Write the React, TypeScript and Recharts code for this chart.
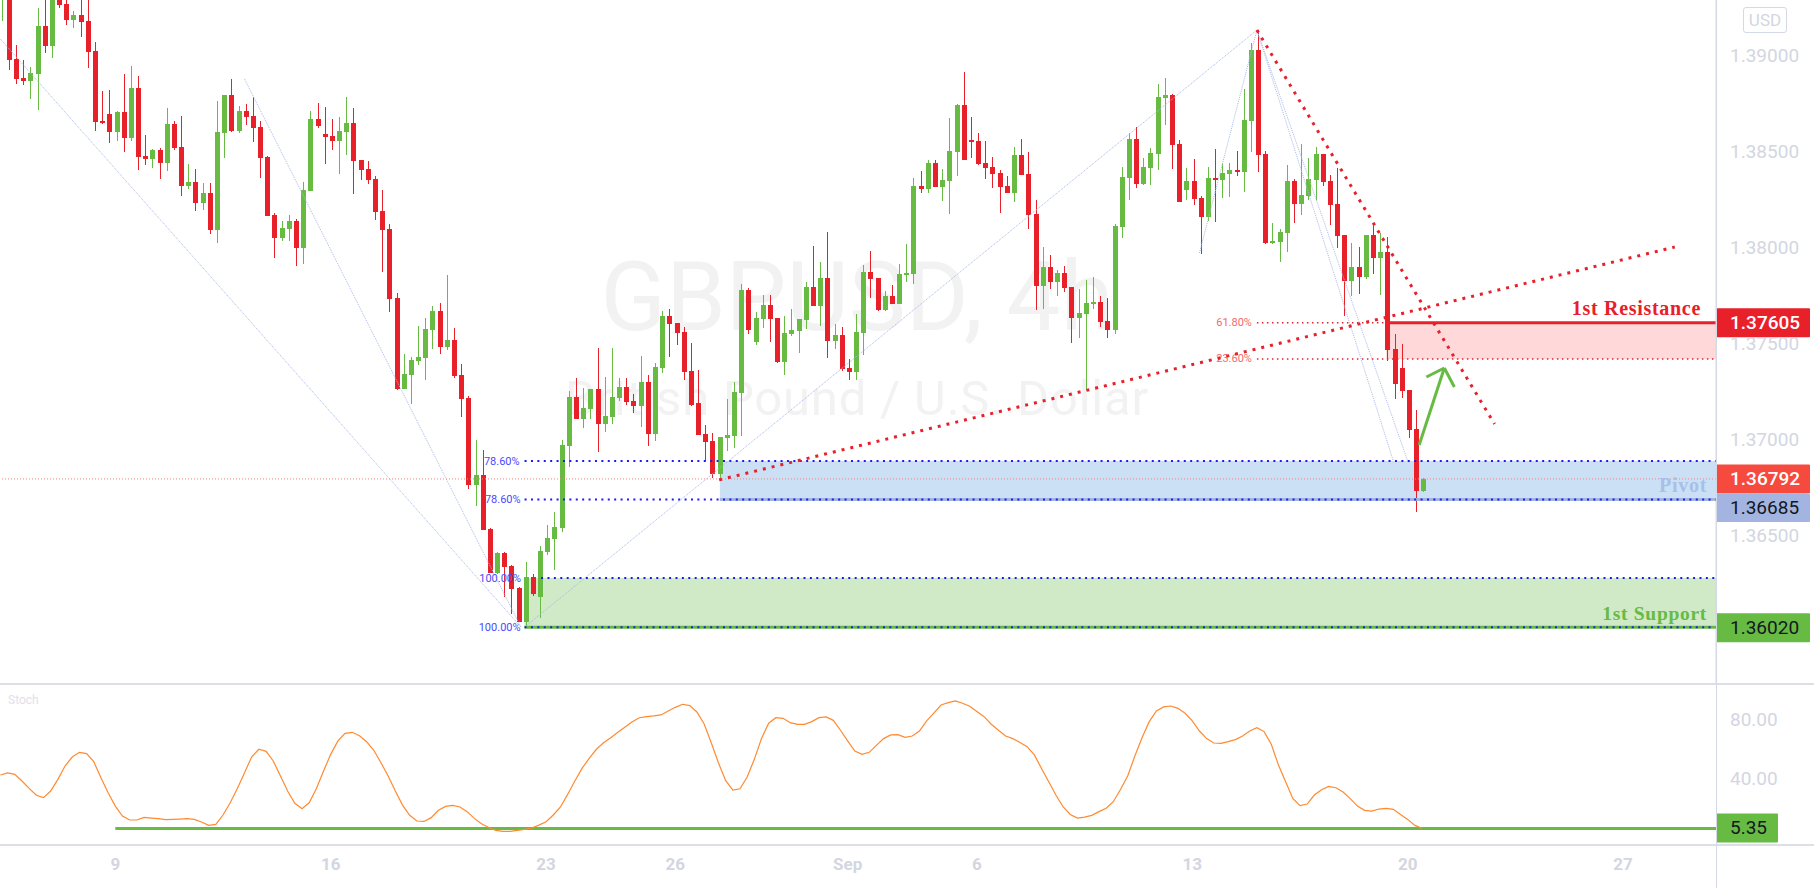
import {
  ComposedChart,
  Bar,
  Line,
  XAxis,
  YAxis,
  ReferenceArea,
  ReferenceLine,
} from "recharts";

// 4h GBPUSD candles
const highs = [
  1.39443, 1.39495, 1.39052, 1.38974, 1.38938, 1.39245, 1.39391, 1.39443, 1.39443, 1.39313,
  1.39229, 1.39339, 1.39339, 1.39068, 1.38812, 1.38818, 1.38708, 1.38901, 1.38943, 1.38891,
  1.38583, 1.3851, 1.38516, 1.38724, 1.38656, 1.38682, 1.38432, 1.38406, 1.38333, 1.38333,
  1.38761, 1.38792, 1.38875, 1.38734, 1.38745, 1.38781, 1.38656, 1.38474, 1.38177, 1.38136,
  1.38167, 1.38146, 1.38339, 1.38708, 1.3875, 1.38729, 1.38667, 1.38677, 1.38781, 1.38724,
  1.38453, 1.38448, 1.3837, 1.38297, 1.3812, 1.3776, 1.37443, 1.37427, 1.37588, 1.3763,
  1.37693, 1.37708, 1.37854, 1.37578, 1.37391, 1.37224, 1.36995, 1.36943, 1.36536, 1.36411,
  1.36411, 1.36343, 1.36229, 1.36359, 1.36297, 1.36443, 1.36552, 1.36619, 1.36995, 1.3725,
  1.37318, 1.37266, 1.3726, 1.37474, 1.37323, 1.37474, 1.37318, 1.37318, 1.37234, 1.37432,
  1.37333, 1.37396, 1.37667, 1.37677, 1.37604, 1.37583, 1.375, 1.37359, 1.37073, 1.37031,
  1.3701, 1.37208, 1.37297, 1.37808, 1.37786, 1.37662, 1.3775, 1.3775, 1.3763, 1.37641,
  1.37677, 1.37625, 1.37818, 1.38005, 1.37922, 1.38078, 1.37599, 1.37583, 1.37417, 1.37651,
  1.37906, 1.37979, 1.37839, 1.37771, 1.37802, 1.37911, 1.38016, 1.3836, 1.38396, 1.38453,
  1.38453, 1.38406, 1.38672, 1.38745, 1.38911, 1.38677, 1.38594, 1.38552, 1.38469, 1.38401,
  1.3837, 1.38521, 1.38563, 1.38495, 1.38245, 1.38, 1.37958, 1.3788, 1.37901, 1.37792,
  1.37781, 1.37828, 1.37844, 1.37745, 1.37734, 1.3812, 1.38417, 1.38594, 1.38625, 1.38464,
  1.38516, 1.38849, 1.3888, 1.38797, 1.38557, 1.38412, 1.38458, 1.38266, 1.38417, 1.3851,
  1.38438, 1.38438, 1.385, 1.38823, 1.39063, 1.3913, 1.385, 1.38125, 1.38094, 1.38427,
  1.38354, 1.38536, 1.38464, 1.38521, 1.38484, 1.38375, 1.38412, 1.38062, 1.38021, 1.38,
  1.38062, 1.38125, 1.38073, 1.38052, 1.37547, 1.37495, 1.37255, 1.37151, 1.36797,
];
const lows = [
  1.39177, 1.38922, 1.38849, 1.38844, 1.38771, 1.38713, 1.39011, 1.38984, 1.39245, 1.39156,
  1.39141, 1.39094, 1.38932, 1.38604, 1.38641, 1.38542, 1.38552, 1.38495, 1.38552, 1.38401,
  1.38427, 1.38412, 1.38354, 1.38396, 1.38505, 1.38266, 1.38302, 1.38188, 1.38193, 1.38068,
  1.38021, 1.38464, 1.38599, 1.38594, 1.38635, 1.38547, 1.3836, 1.38162, 1.37943, 1.38031,
  1.38031, 1.37901, 1.37911, 1.38292, 1.3862, 1.38432, 1.38505, 1.3838, 1.38479, 1.38276,
  1.38349, 1.38328, 1.38141, 1.3787, 1.37662, 1.37255, 1.3726, 1.37182, 1.37385, 1.37307,
  1.37469, 1.37443, 1.37464, 1.37318, 1.37115, 1.36739, 1.36651, 1.36526, 1.36302, 1.36297,
  1.36177, 1.36088, 1.36046, 1.3602, 1.36182, 1.36067, 1.36395, 1.36318, 1.36515, 1.36854,
  1.37104, 1.37057, 1.37104, 1.36932, 1.37036, 1.37078, 1.37198, 1.37177, 1.37135, 1.37063,
  1.36964, 1.3699, 1.37344, 1.37427, 1.3749, 1.37307, 1.37172, 1.37021, 1.36885, 1.36797,
  1.36797, 1.36937, 1.36953, 1.37016, 1.37547, 1.3749, 1.37578, 1.37505, 1.37396, 1.37333,
  1.37536, 1.37448, 1.37573, 1.37693, 1.37588, 1.37422, 1.37469, 1.37354, 1.37307, 1.37307,
  1.37438, 1.37734, 1.37667, 1.37667, 1.37703, 1.37703, 1.37818, 1.37808, 1.38281, 1.38281,
  1.38313, 1.3824, 1.38172, 1.3837, 1.38453, 1.38464, 1.38427, 1.38354, 1.38307, 1.38177,
  1.38281, 1.38234, 1.38375, 1.38094, 1.37672, 1.37677, 1.37781, 1.37745, 1.37766, 1.375,
  1.37526, 1.37255, 1.37677, 1.37583, 1.37526, 1.37547, 1.38047, 1.38245, 1.38307, 1.38323,
  1.38323, 1.38401, 1.38635, 1.38406, 1.38234, 1.38245, 1.38219, 1.37963, 1.38136, 1.3813,
  1.38255, 1.3826, 1.3837, 1.38287, 1.38495, 1.38391, 1.38016, 1.38016, 1.37922, 1.37974,
  1.38125, 1.38167, 1.38245, 1.38245, 1.38318, 1.38115, 1.37995, 1.37641, 1.37745, 1.37755,
  1.37833, 1.37859, 1.3775, 1.37406, 1.37208, 1.37214, 1.37005, 1.36619, 1.36724,
];
const opens = [
  1.39302, 1.39417, 1.38979, 1.3888, 1.38865, 1.38901, 1.39151, 1.39047, 1.39365, 1.39266,
  1.39182, 1.39208, 1.39177, 1.39021, 1.38656, 1.38693, 1.38599, 1.38703, 1.38568, 1.38828,
  1.38474, 1.38458, 1.38505, 1.38438, 1.38641, 1.38521, 1.38318, 1.38339, 1.38229, 1.38281,
  1.38089, 1.38594, 1.38792, 1.38604, 1.38708, 1.38682, 1.38625, 1.38469, 1.38167, 1.38047,
  1.38094, 1.38136, 1.37995, 1.38292, 1.38667, 1.38589, 1.38578, 1.38552, 1.38599, 1.38646,
  1.38453, 1.38406, 1.38354, 1.38188, 1.38094, 1.37734, 1.3726, 1.37333, 1.37406, 1.37422,
  1.37568, 1.37667, 1.37479, 1.37516, 1.37333, 1.37214, 1.3676, 1.36812, 1.36531, 1.36302,
  1.36406, 1.36338, 1.36224, 1.36046, 1.36281, 1.36177, 1.36411, 1.36479, 1.36536, 1.36964,
  1.37219, 1.37104, 1.37156, 1.3726, 1.37078, 1.37115, 1.37214, 1.37271, 1.37198, 1.37172,
  1.37297, 1.37026, 1.3737, 1.37641, 1.37604, 1.37557, 1.37354, 1.37188, 1.37026, 1.3699,
  1.36818, 1.37005, 1.37016, 1.37239, 1.37776, 1.37505, 1.37625, 1.37698, 1.3763, 1.37401,
  1.37547, 1.37562, 1.3762, 1.37792, 1.37693, 1.37839, 1.3751, 1.37542, 1.3737, 1.37349,
  1.37552, 1.3787, 1.37839, 1.37672, 1.37745, 1.37703, 1.37854, 1.37859, 1.38318, 1.38302,
  1.38438, 1.38313, 1.38344, 1.38495, 1.3874, 1.38557, 1.38552, 1.38438, 1.38417, 1.38385,
  1.38318, 1.38281, 1.38479, 1.3838, 1.38172, 1.37797, 1.37896, 1.37818, 1.37865, 1.37792,
  1.3763, 1.37651, 1.37703, 1.37713, 1.37615, 1.37568, 1.38104, 1.3836, 1.38563, 1.38328,
  1.38412, 1.38484, 1.38776, 1.38792, 1.38536, 1.38297, 1.38344, 1.38255, 1.38156, 1.3836,
  1.38349, 1.3838, 1.38401, 1.38391, 1.38656, 1.39026, 1.38484, 1.38021, 1.38026, 1.38073,
  1.38344, 1.38224, 1.38266, 1.38349, 1.38484, 1.38344, 1.38224, 1.38062, 1.37823, 1.37896,
  1.37844, 1.38062, 1.37943, 1.37974, 1.37469, 1.3737, 1.37255, 1.37052, 1.36729,
];
const closes = [
  1.39417, 1.38974, 1.38875, 1.38865, 1.38906, 1.39151, 1.39047, 1.39339, 1.39261, 1.39182,
  1.39208, 1.39172, 1.39016, 1.38651, 1.38646, 1.38599, 1.38703, 1.38568, 1.38828, 1.38469,
  1.38458, 1.38505, 1.38438, 1.38641, 1.38516, 1.38318, 1.38339, 1.38229, 1.38281, 1.38089,
  1.38599, 1.38792, 1.38604, 1.38708, 1.38677, 1.3862, 1.38464, 1.38162, 1.38047, 1.38099,
  1.38136, 1.37995, 1.38297, 1.38667, 1.3863, 1.38573, 1.38552, 1.38604, 1.38646, 1.38448,
  1.38401, 1.38349, 1.38182, 1.38089, 1.37729, 1.3726, 1.37339, 1.37411, 1.37427, 1.37573,
  1.37667, 1.37479, 1.37516, 1.37328, 1.37208, 1.3676, 1.36812, 1.36526, 1.36302, 1.36406,
  1.36333, 1.36218, 1.36046, 1.36281, 1.36192, 1.36416, 1.36484, 1.36541, 1.36969, 1.37219,
  1.37104, 1.37161, 1.3726, 1.37078, 1.3712, 1.37219, 1.37271, 1.37193, 1.37172, 1.37297,
  1.37026, 1.37375, 1.37641, 1.37599, 1.37552, 1.37349, 1.37177, 1.37021, 1.36984, 1.36818,
  1.3701, 1.37021, 1.37245, 1.37776, 1.37568, 1.3763, 1.37698, 1.37625, 1.37401, 1.37552,
  1.37568, 1.37625, 1.37792, 1.37693, 1.37839, 1.3751, 1.37542, 1.37365, 1.37349, 1.37557,
  1.3787, 1.37833, 1.37672, 1.37745, 1.37703, 1.37859, 1.37865, 1.38318, 1.38302, 1.38438,
  1.38313, 1.38349, 1.385, 1.3874, 1.38453, 1.38547, 1.38432, 1.38412, 1.3838, 1.38313,
  1.38281, 1.38479, 1.38375, 1.38167, 1.37797, 1.37896, 1.37818, 1.37865, 1.37786, 1.3763,
  1.37656, 1.37708, 1.37713, 1.37609, 1.37568, 1.38109, 1.38365, 1.38563, 1.38328, 1.38417,
  1.3849, 1.38781, 1.38792, 1.38531, 1.38234, 1.38344, 1.3825, 1.38156, 1.3836, 1.38349,
  1.38385, 1.38401, 1.38391, 1.38662, 1.39026, 1.38479, 1.38021, 1.38031, 1.38078, 1.38344,
  1.38224, 1.38271, 1.38354, 1.38484, 1.38339, 1.38219, 1.38057, 1.37823, 1.37896, 1.37844,
  1.38062, 1.37943, 1.37974, 1.37464, 1.37286, 1.3725, 1.37047, 1.36729, 1.36792,
];
const stoch = [
  41.9, 43.3, 42.3, 37.8, 32.7, 28, 26.4, 30.9, 38.9, 48,
  54.2, 57.4, 56.5, 51, 40, 29.8, 20.6, 13.8, 11.1, 11.1,
  12.9, 12.4, 12, 11.3, 11.5, 11.7, 12, 11.5, 9.7, 7.4,
  8.1, 14.5, 22.9, 32.7, 43.5, 54.4, 59.5, 58.1, 51.5, 41.2,
  30.9, 22.5, 18.8, 22.9, 32.5, 44.6, 56, 65.2, 70.4, 71.1,
  68.8, 64.7, 58.8, 50.3, 41.2, 30.9, 21.3, 14.3, 10.4, 10.1,
  12.7, 17.7, 20.4, 21.1, 20, 16.8, 12.2, 8.5, 6, 4,
  3.3, 3.3, 4, 4.7, 5.6, 7.6, 9.9, 14.5, 20, 28.6,
  37.8, 46.4, 53.3, 59.5, 64, 67.4, 71.1, 74.8, 78.4, 81.1,
  81.8, 82.3, 83, 85.7, 88.2, 90.3, 89.4, 85, 77, 64,
  50.3, 38.2, 31.6, 32.5, 40.5, 52.6, 66.8, 77.3, 81.1, 80.7,
  77.7, 76.6, 76.6, 78.4, 81.1, 81.6, 79.3, 72.5, 65.2, 58.3,
  56, 57.4, 62.2, 66.8, 69.3, 69.5, 67.7, 68.6, 72, 78.9,
  84.3, 89.8, 91.4, 92.6, 91, 88.9, 85.3, 81.8, 76.6, 72.5,
  68.6, 66.8, 64.2, 61.3, 55.6, 46.4, 37.3, 28.2, 20.2, 14.9,
  12.4, 13.1, 14.3, 16.8, 19.1, 23.6, 32, 41.2, 54.9, 67.4,
  78.4, 85.7, 88.5, 89.1, 87.5, 84.1, 78.9, 72, 66.8, 63.8,
  63.6, 64.7, 66.1, 68.6, 72, 74.3, 71.6, 62.9, 48.7, 37.3,
  25.9, 20.9, 22, 28.2, 31.8, 34.1, 33.2, 30.2, 25.7, 20.6,
  17.7, 17.2, 18.6, 19.1, 18.4, 14.9, 11.5, 7.4, 5.35,
];

const priceTicks = [1.39, 1.385, 1.38, 1.375, 1.37, 1.365];
const stochTicks = [80, 40];
const dateLabels = ["9", "16", "23", "26", "Sep", "6", "13", "20", "27"];
const dateIndexes = [16, 46, 76, 94, 118, 136, 166, 196, 226];

// levels on the right
const resistance = 1.37605;
const resistanceLow = 1.37417;
const lastPrice = 1.36792;
const pivot = 1.36685;
const pivotHigh = 1.36885;
const support = 1.3602;
const supportHigh = 1.36276;
const stochLevel = 5.35;

// drawing anchors as [candle index, price]
const swingHigh = [175, 1.3913];
const swingLow = [72.5, 1.3602];
const fibLines = [
  [[0, 1.39083], swingLow],
  [[34, 1.38875], swingLow],
  [[73, 1.3602], swingHigh],
  [[167, 1.37969], swingHigh],
  [swingHigh, [194, pivotHigh]],
  [swingHigh, [196, pivotHigh]],
];
const trendLines = [
  [[100.1, 1.36787], [233.2, 1.38]],
  [swingHigh, [208.1, 1.37078]],
];
const arrowLines = [
  [[197.6, 1.36969], [201.1, 1.3737]],
  [[198.6, 1.37323], [201.1, 1.3737]],
  [[202.5, 1.37271], [201.1, 1.3737]],
];

const xMin = -0.06;
const xMax = 238.94;
const priceDomain = [1.357292, 1.392865];
const stochDomain = [-5.33, 104.85];

const candleData = highs.map((h, i) => ({
  i,
  open: opens[i],
  high: h,
  low: lows[i],
  close: closes[i],
}));
const stochData = stoch.map((v, i) => ({ i, stoch: v }));

const GREEN = "#67bb43";
const RED = "#e8202a";
const AXIS = "#d5d8e5";
const AXIS_TEXT = "#d3d6e1";
const BLUE_DOT = "#1a1aff";
const FONT = "Roboto, sans-serif";
const WATERMARK = "#f2f2f3";

// eslint-disable-next-line @typescript-eslint/no-explicit-any
function Candle(props: any) {
  const { x, y, width, height, payload } = props;
  const { open, high, low, close } = payload;
  const perUnit = height / (high - low);
  const top = Math.round(y + (high - Math.max(open, close)) * perUnit);
  const bodyH = Math.max(Math.round(Math.abs(open - close) * perUnit), 1);
  const color = close >= open ? GREEN : RED;
  // bars on a number axis land a little left of the tick
  const left = Math.round(x + 1.8);
  const mid = left + width / 2;
  return (
    <g>
      <line x1={mid} x2={mid} y1={Math.round(y)} y2={Math.round(y + height)} stroke={color} strokeWidth={1} />
      <rect x={left} y={top} width={width} height={bodyH} fill={color} />
    </g>
  );
}

// eslint-disable-next-line @typescript-eslint/no-explicit-any
const badge = (text: string, bg: string, color: string, top: number, h: number, w = 94, weight = 400) => (props: any) => {
  const { x, width, y } = props.viewBox;
  const left = x + width;
  return (
    <g>
      <rect x={left} y={y + top} width={w} height={h} fill={bg} rx={1} />
      <text
        x={left + 14}
        y={y + top + h / 2}
        dominantBaseline="central"
        fill={color}
        fontSize={19}
        fontWeight={weight}
        fontFamily={FONT}
      >
        {text}
      </text>
    </g>
  );
};

// eslint-disable-next-line @typescript-eslint/no-explicit-any
const note = (text: string, color: string, fromRight: number, dy: number, size = 20) => (props: any) => {
  const { x, width, y } = props.viewBox;
  return (
    <text
      x={x + width - fromRight}
      y={y + dy}
      textAnchor="end"
      dominantBaseline="central"
      fill={color}
      fontSize={size}
      fontWeight={700}
      letterSpacing={0.7}
      fontFamily="Liberation Serif, serif"
    >
      {text}
    </text>
  );
};

// eslint-disable-next-line @typescript-eslint/no-explicit-any
const fibLabel = (text: string, color: string, dx: number) => (props: any) => {
  const { x, y } = props.viewBox;
  return (
    <text
      x={x + dx}
      y={y}
      textAnchor="end"
      dominantBaseline="central"
      fill={color}
      fontSize={11}
      fontFamily={FONT}
    >
      {text}
    </text>
  );
};

export default function App() {
  const hLine = (from: number, to: number, y: number) => [
    { x: from, y },
    { x: to, y },
  ];
  // eslint-disable-next-line @typescript-eslint/no-explicit-any
  const toSegment = (pair: any) => [
    { x: pair[0][0], y: pair[0][1] },
    { x: pair[1][0], y: pair[1][1] },
  ];

  return (
    <div style={{ position: "absolute", left: 0, top: 0, width: 1814, height: 888, overflow: "hidden", background: "#fff" }}>
      <div style={{ position: "absolute", left: 0, top: 0 }}>
        <ComposedChart width={1814} height={683} data={candleData} margin={{ top: 0, right: 0, bottom: 0, left: 0 }}>
          <text x={857} y={330} textAnchor="middle" fontSize={96} fill={WATERMARK} fontFamily={FONT}>
            GBPUSD, 4h
          </text>
          <text x={857} y={415} textAnchor="middle" fontSize={49} letterSpacing={0.8} fill={WATERMARK} fontFamily={FONT}>
            British Pound / U.S. Dollar
          </text>
          <XAxis type="number" dataKey="i" domain={[xMin, xMax]} hide allowDataOverflow />
          <YAxis
            orientation="right"
            width={98}
            domain={priceDomain}
            ticks={priceTicks}
            interval={0}
            allowDataOverflow
            tickFormatter={(v: number) => v.toFixed(5)}
            tick={{ fill: AXIS_TEXT, fontSize: 19, fontFamily: FONT }}
            tickLine={false}
            tickSize={0}
            tickMargin={14}
            axisLine={{ stroke: AXIS }}
          />
          <ReferenceArea x1={193} x2={xMax} y1={resistanceLow} y2={resistance} fill="#ffd9d9" fillOpacity={1} strokeOpacity={0} />
          <ReferenceArea x1={100.2} x2={xMax} y1={pivot} y2={pivotHigh} fill="#cce0f5" fillOpacity={1} strokeOpacity={0} />
          <ReferenceArea x1={73} x2={xMax} y1={support} y2={supportHigh} fill="#d0e9c6" fillOpacity={1} strokeOpacity={0} />

          <ReferenceLine y={lastPrice} stroke="#f5807e" strokeWidth={1} strokeDasharray="1 2" />
          <ReferenceLine segment={hLine(100.2, xMax, pivot)} stroke="#a3b4e0" strokeWidth={3} />
          <ReferenceLine segment={hLine(193, xMax, resistance)} stroke={RED} strokeWidth={3} />
          <ReferenceLine segment={hLine(73, xMax, support)} stroke={GREEN} strokeWidth={3} />

          {fibLines.map((pair, k) => (
            <ReferenceLine key={k} segment={toSegment(pair)} stroke="#a8b8ea" strokeWidth={1} strokeDasharray="1 1" />
          ))}

          <Bar
            dataKey={(d: { low: number; high: number }) => [d.low, d.high]}
            barSize={5}
            shape={Candle}
            isAnimationActive={false}
          />

          <ReferenceLine segment={hLine(73, xMax, pivotHigh)} stroke={BLUE_DOT} strokeWidth={2} strokeDasharray="2 4.4" label={fibLabel("78.60%", "#4a4aff", -5)} />
          <ReferenceLine segment={hLine(73, xMax, pivot)} stroke={BLUE_DOT} strokeWidth={2} strokeDasharray="2 4.4" label={fibLabel("78.60%", "#4a4aff", -4)} />
          <ReferenceLine segment={hLine(75.3, xMax, supportHigh)} stroke={BLUE_DOT} strokeWidth={2} strokeDasharray="2 4.4" label={fibLabel("100.00%", "#4a4aff", -20)} />
          <ReferenceLine segment={hLine(73, xMax, support)} stroke={BLUE_DOT} strokeWidth={2} strokeDasharray="2 4.4" label={fibLabel("100.00%", "#4a4aff", -4)} />
          <ReferenceLine segment={hLine(175, 193, resistance)} stroke={RED} strokeWidth={1.5} strokeDasharray="1.5 3.5" label={fibLabel("61.80%", "#f26a6a", -5)} />
          <ReferenceLine segment={hLine(175, xMax, resistanceLow)} stroke={RED} strokeWidth={1.5} strokeDasharray="1.5 3.5" label={fibLabel("23.60%", "#f26a6a", -5)} />

          {trendLines.map((pair, k) => (
            <ReferenceLine key={k} segment={toSegment(pair)} stroke={RED} strokeWidth={3} strokeDasharray="3 6" />
          ))}
          {arrowLines.map((pair, k) => (
            <ReferenceLine key={k} segment={toSegment(pair)} stroke={GREEN} strokeWidth={3} />
          ))}

          <ReferenceLine y={resistance} stroke="none" label={note("1st Resistance", RED, 15, -14.5)} />
          <ReferenceLine y={lastPrice} stroke="none" label={note("Pivot", "#a6c0ea", 9, 6.5)} />
          <ReferenceLine y={support} stroke="none" label={note("1st Support", GREEN, 9, -14, 19.5)} />

          <ReferenceLine y={resistance} stroke="none" label={badge("1.37605", RED, "#fff", -14.5, 29, 94, 500)} />
          <ReferenceLine y={lastPrice} stroke="none" label={badge("1.36792", "#f64a3e", "#fff", -14.5, 29, 94, 500)} />
          <ReferenceLine y={pivot} stroke="none" label={badge("1.36685", "#a3b4e0", "#131722", -5.5, 28)} />
          <ReferenceLine y={support} stroke="none" label={badge("1.36020", GREEN, "#131722", -14, 29)} />
        </ComposedChart>
      </div>

      <div style={{ position: "absolute", left: 0, top: 683 }}>
        <ComposedChart width={1814} height={205} data={stochData} margin={{ top: 0, right: 0, bottom: 0, left: 0 }}>
          <text x={8} y={17} dominantBaseline="central" fontSize={12} fill="#dfe1e8" fontFamily={FONT}>
            Stoch
          </text>
          <XAxis
            type="number"
            dataKey="i"
            domain={[xMin, xMax]}
            allowDataOverflow
            ticks={dateIndexes}
            interval={0}
            height={44}
            tickFormatter={(v: number) => dateLabels[dateIndexes.indexOf(v)]}
            tick={{ fill: AXIS_TEXT, fontSize: 17, fontWeight: 700, fontFamily: FONT }}
            tickLine={false}
            tickSize={0}
            tickMargin={14}
            axisLine={false}
          />
          <YAxis
            orientation="right"
            width={98}
            domain={stochDomain}
            ticks={stochTicks}
            interval={0}
            allowDataOverflow
            tickFormatter={(v: number) => v.toFixed(2)}
            tick={{ fill: AXIS_TEXT, fontSize: 19, fontFamily: FONT }}
            tickLine={false}
            tickSize={0}
            tickMargin={14}
            axisLine={false}
          />
          <ReferenceLine segment={hLine(16, xMax, stochLevel)} stroke={GREEN} strokeWidth={3} />
          <Line dataKey="stoch" type="linear" stroke="#ff8a30" strokeWidth={1.2} dot={false} isAnimationActive={false} />
          <ReferenceLine y={stochLevel} stroke="none" label={badge("5.35", GREEN, "#131722", -15, 29, 62)} />
        </ComposedChart>
      </div>

      <div style={{ position: "absolute", left: 0, top: 683, width: 1814, height: 2, background: "#dcdee8" }} />
      <div style={{ position: "absolute", left: 0, top: 844, width: 1814, height: 2, background: "#dcdee8" }} />
      <div style={{ position: "absolute", left: 1716, top: 0, width: 1, height: 888, background: AXIS }} />
      <div
        style={{
          position: "absolute",
          left: 1743,
          top: 7,
          width: 42,
          height: 24,
          border: `1px solid ${AXIS}`,
          borderRadius: 3,
          color: AXIS_TEXT,
          fontFamily: FONT,
          fontSize: 17,
          lineHeight: "24px",
          textAlign: "center",
        }}
      >
        USD
      </div>
    </div>
  );
}
